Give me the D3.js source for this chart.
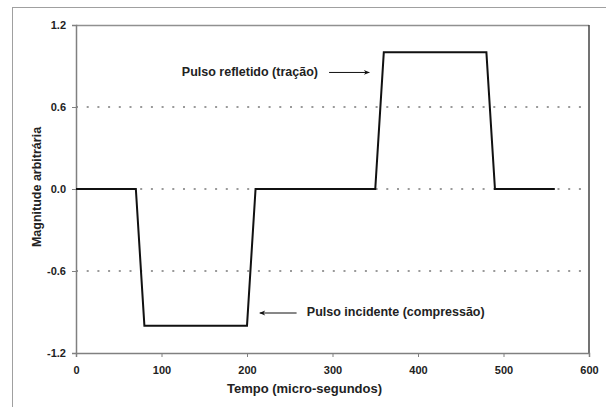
<!DOCTYPE html>
<html>
<head>
<meta charset="utf-8">
<script src="https://cdn.jsdelivr.net/npm/d3@7"></script>
<style>
  body { margin: 0; background: #fff; }
  text { font-family: Arial, "Liberation Sans", sans-serif; font-weight: bold; fill: #222; }
</style>
</head>
<body>
<svg id="chart" width="606" height="407"></svg>
<script>
// tempo (micro-segundos) e magnitude do pulso
const tempo     = [0, 70, 80, 200, 210, 350, 360, 480, 490, 560]
const magnitude = [0, 0, -1, -1, 0, 0, 1, 1, 0, 0]

const xTicks = [0, 100, 200, 300, 400, 500, 600]
const yTicks = [-1.2, -0.6, 0.0, 0.6, 1.2]
const gridValues = [-0.6, 0.0, 0.6]

const notes = [
  {text: "Pulso refletido (tração)", x: 283, y: 0.86, anchor: "end", from: 296, to: 343},
  {text: "Pulso incidente (compressão)", x: 270, y: -0.9, anchor: "start", from: 258, to: 215}
]

const svg = d3.select("#chart")
const x = d3.scaleLinear().domain([0, 600]).range([76, 589])
const y = d3.scaleLinear().domain([-1.2, 1.2]).range([353, 25])

// moldura externa
svg.append("rect")
  .attr("x", 12.5).attr("y", 7.5)
  .attr("width", 700).attr("height", 500)
  .attr("fill", "none").attr("stroke", "#a0a0a0")

svg.append("defs").append("marker")
  .attr("id", "arrow")
  .attr("viewBox", "0 0 10 10")
  .attr("refX", 9).attr("refY", 5)
  .attr("markerWidth", 9).attr("markerHeight", 6)
  .attr("markerUnits", "userSpaceOnUse")
  .attr("orient", "auto")
  .append("path")
  .attr("d", "M0,1 L10,5 L0,9 L3,5 Z")
  .attr("fill", "#111")

// grade pontilhada
svg.append("g")
  .selectAll("line")
  .data(gridValues)
  .join("line")
  .attr("x1", x(0)).attr("x2", x(600))
  .attr("y1", d => y(d)).attr("y2", d => y(d))
  .attr("stroke", "#9a9a9a")
  .attr("stroke-width", 2)
  .attr("stroke-dasharray", "2,8.7")

// borda da área do gráfico
svg.append("line")
  .attr("x1", x(0)).attr("x2", x(600))
  .attr("y1", y(1.2) + 0.5).attr("y2", y(1.2) + 0.5)
  .attr("stroke", "#909090").attr("stroke-width", 1.5)
svg.append("line")
  .attr("x1", x(600)).attr("x2", x(600))
  .attr("y1", y(1.2)).attr("y2", y(-1.2))
  .attr("stroke", "#444").attr("stroke-width", 1.5)

const fmtY = d => d3.format(".1f")(d).replace("\u2212", "-")

const xAxis = svg.append("g")
  .attr("transform", `translate(0,${y(-1.2)})`)
  .call(d3.axisBottom(x).tickValues(xTicks).tickSize(4).tickPadding(9).tickFormat(d3.format("d")))
const yAxis = svg.append("g")
  .attr("transform", `translate(${x(0)},0)`)
  .call(d3.axisLeft(y).tickValues(yTicks).tickSize(4).tickPadding(6).tickFormat(fmtY))

for (const ax of [xAxis, yAxis]) {
  ax.select(".domain").attr("stroke", "#808080").attr("stroke-width", 1.5)
  ax.selectAll(".tick line").attr("stroke", "#808080")
  ax.selectAll(".tick text").attr("font-size", 11).attr("fill", "#222")
  ax.attr("font-family", null)
}

// pulso
const line = d3.line().x((d, i) => x(tempo[i])).y(d => y(d))
svg.append("path")
  .datum(magnitude)
  .attr("d", line)
  .attr("fill", "none")
  .attr("stroke", "#111")
  .attr("stroke-width", 2)
  .attr("stroke-linejoin", "miter")

// anotações
const ng = svg.append("g")
ng.selectAll("text")
  .data(notes)
  .join("text")
  .attr("x", d => x(d.x))
  .attr("y", d => y(d.y))
  .attr("dy", "0.35em")
  .attr("text-anchor", d => d.anchor)
  .attr("font-size", 12.5)
  .text(d => d.text)
ng.selectAll("line")
  .data(notes)
  .join("line")
  .attr("x1", d => x(d.from)).attr("x2", d => x(d.to))
  .attr("y1", d => y(d.y) + 1).attr("y2", d => y(d.y) + 1)
  .attr("stroke", "#111").attr("stroke-width", 1)
  .attr("marker-end", "url(#arrow)")

// títulos dos eixos
svg.append("text")
  .attr("x", (x(0) + x(600)) / 2 - 28)
  .attr("y", 393)
  .attr("text-anchor", "middle")
  .attr("font-size", 13)
  .text("Tempo (micro-segundos)")
svg.append("text")
  .attr("transform", `translate(41,${(y(1.2) + y(-1.2)) / 2 - 2}) rotate(-90)`)
  .attr("text-anchor", "middle")
  .attr("font-size", 12.5)
  .text("Magnitude arbitrária")
</script>
</body>
</html>
